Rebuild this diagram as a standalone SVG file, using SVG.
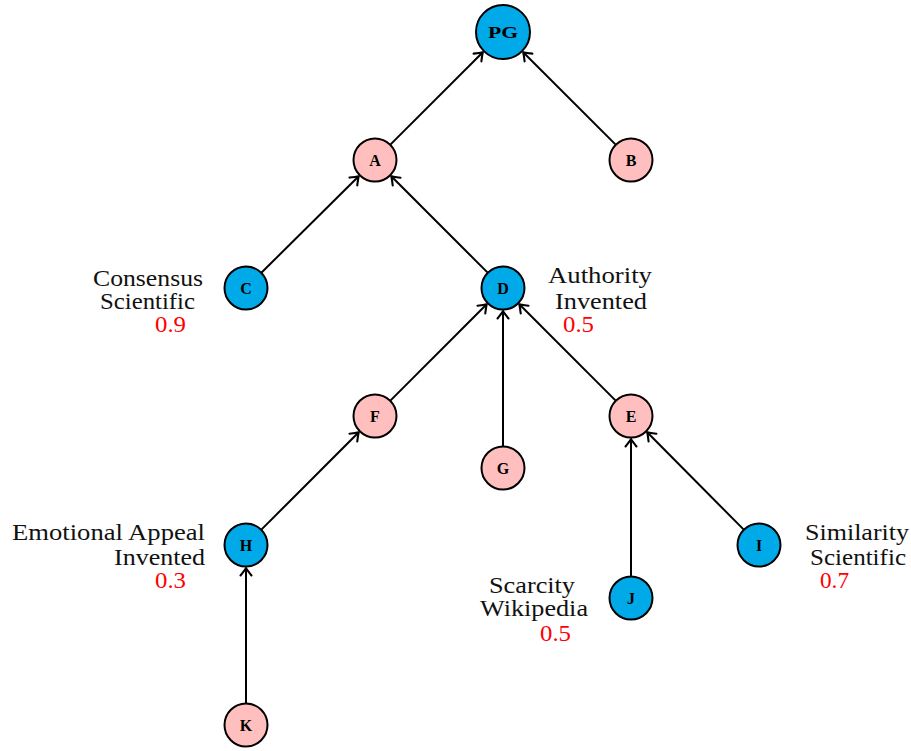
<svg xmlns="http://www.w3.org/2000/svg" width="911" height="751" viewBox="0 0 911 751">
<defs>
<marker id="arr" viewBox="-10 -7 12 14" refX="0" refY="0" markerWidth="12" markerHeight="14" markerUnits="userSpaceOnUse" orient="auto">
<path d="M -7.5,-5.5 Q -2.5,-1.5 0,0 Q -2.5,1.5 -7.5,5.5" fill="none" stroke="#000" stroke-width="2.1" stroke-linecap="round" stroke-linejoin="round"/>
</marker>
<style>
.blue{fill:#00A9E8;stroke:#000;stroke-width:2}
.pink{fill:#FFBFBF;stroke:#000;stroke-width:2}
.nl{font-family:"Liberation Serif","Times New Roman",serif;font-weight:bold;font-size:16px;text-anchor:middle;fill:#000}
.lb{font-family:"Liberation Serif","Times New Roman",serif;font-size:23px;fill:#111}
.num{font-family:"Liberation Serif","Times New Roman",serif;font-size:23px;fill:#FF0000}
.edge{stroke:#000;stroke-width:2;fill:none;marker-end:url(#arr)}
</style>
</defs>
<rect width="911" height="751" fill="#fff"/>
<g id="connectors">
<line class="edge" x1="261.6" y1="272.5" x2="358.7" y2="176.2"/>
<line class="edge" x1="487.4" y1="272.4" x2="391.3" y2="176.3"/>
<line class="edge" x1="390.6" y1="144.4" x2="482.8" y2="52.2"/>
<line class="edge" x1="615.4" y1="144.4" x2="523.2" y2="52.2"/>
<line class="edge" x1="390.6" y1="400.4" x2="486.7" y2="304.3"/>
<line class="edge" x1="503" y1="446" x2="503" y2="311"/>
<line class="edge" x1="615.4" y1="400.4" x2="519.3" y2="304.3"/>
<line class="edge" x1="261.6" y1="529.4" x2="358.7" y2="432.3"/>
<line class="edge" x1="246" y1="703" x2="246" y2="568"/>
<line class="edge" x1="631" y1="576" x2="631" y2="439"/>
<line class="edge" x1="743.5" y1="529.4" x2="647.2" y2="432.3"/>
</g>
<g id="PG"><circle class="blue" cx="503" cy="32" r="27"/><text class="nl" x="503" y="38" font-size="17" textLength="30" lengthAdjust="spacingAndGlyphs">PG</text></g>
<g id="A"><circle class="pink" cx="375" cy="160" r="21.5"/><text class="nl" x="375" y="165.5">A</text></g>
<g id="B"><circle class="pink" cx="631" cy="160" r="21.5"/><text class="nl" x="631" y="165.5">B</text></g>
<g id="C"><circle class="blue" cx="246" cy="288" r="21.5"/><text class="nl" x="246" y="293.5">C</text></g>
<g id="D"><circle class="blue" cx="503" cy="288" r="21.5"/><text class="nl" x="503" y="293.5">D</text></g>
<g id="F"><circle class="pink" cx="375" cy="416" r="21.5"/><text class="nl" x="375" y="421.5">F</text></g>
<g id="G"><circle class="pink" cx="503" cy="468" r="21.5"/><text class="nl" x="503" y="473.5">G</text></g>
<g id="E"><circle class="pink" cx="631" cy="416" r="21.5"/><text class="nl" x="631" y="421.5">E</text></g>
<g id="H"><circle class="blue" cx="246" cy="545" r="21.5"/><text class="nl" x="246" y="550.5">H</text></g>
<g id="I"><circle class="blue" cx="759" cy="545" r="21.5"/><text class="nl" x="759" y="550.5">I</text></g>
<g id="J"><circle class="blue" cx="631" cy="598" r="21.5"/><text class="nl" x="631" y="603.5">J</text></g>
<g id="K"><circle class="pink" cx="246" cy="725" r="21.5"/><text class="nl" x="246" y="730.5">K</text></g>
<g id="labels">
<text class="lb" x="93" y="286" textLength="110" lengthAdjust="spacingAndGlyphs">Consensus</text>
<text class="lb" x="100" y="309" textLength="95" lengthAdjust="spacingAndGlyphs">Scientific</text>
<text class="num" x="155" y="332" textLength="31" lengthAdjust="spacingAndGlyphs">0.9</text>
<text class="lb" x="548" y="283" textLength="104" lengthAdjust="spacingAndGlyphs">Authority</text>
<text class="lb" x="555" y="309" textLength="92" lengthAdjust="spacingAndGlyphs">Invented</text>
<text class="num" x="563" y="332" textLength="31" lengthAdjust="spacingAndGlyphs">0.5</text>
<text class="lb" x="12" y="540" textLength="193" lengthAdjust="spacingAndGlyphs">Emotional Appeal</text>
<text class="lb" x="114" y="565" textLength="91" lengthAdjust="spacingAndGlyphs">Invented</text>
<text class="num" x="155" y="588" textLength="31" lengthAdjust="spacingAndGlyphs">0.3</text>
<text class="lb" x="489" y="593" textLength="86" lengthAdjust="spacingAndGlyphs">Scarcity</text>
<text class="lb" x="480" y="616" textLength="108" lengthAdjust="spacingAndGlyphs">Wikipedia</text>
<text class="num" x="540" y="641" textLength="31" lengthAdjust="spacingAndGlyphs">0.5</text>
<text class="lb" x="805" y="540" textLength="104" lengthAdjust="spacingAndGlyphs">Similarity</text>
<text class="lb" x="810" y="565" textLength="96" lengthAdjust="spacingAndGlyphs">Scientific</text>
<text class="num" x="820" y="588" textLength="29" lengthAdjust="spacingAndGlyphs">0.7</text>
</g>
</svg>
